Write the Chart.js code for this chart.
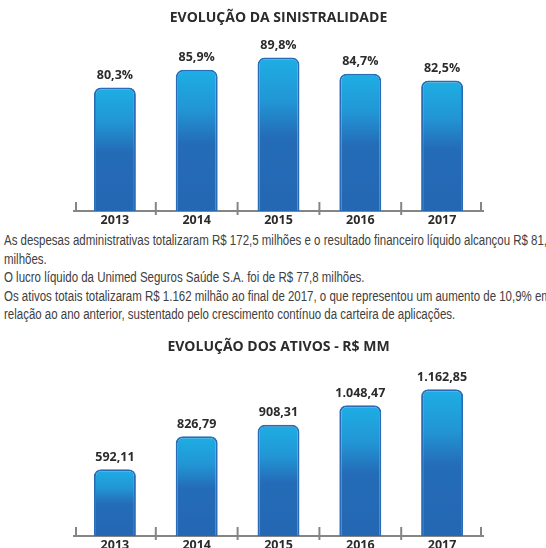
<!DOCTYPE html>
<html lang="pt-BR">
<head>
<meta charset="utf-8">
<title>Evolução da sinistralidade e dos ativos</title>
<script src="https://cdn.jsdelivr.net/npm/chart.js@4/dist/chart.umd.min.js"></script>
<style>
  html, body {
    margin: 0;
    padding: 0;
    background: #ffffff;
    width: 546px;
    height: 548px;
    overflow: hidden;
  }
  .chart-box {
    position: absolute;
    left: 0;
    width: 546px;
    height: 230px;
  }
  #box1 { top: 0; }
  #box2 { top: 325px; }
  .texto-wrap {
    position: absolute;
    left: 4px;
    top: 231px;
    width: 542px;
    height: 95px;
    overflow: hidden;
  }
  /* narrow look of the original typeface: Liberation Sans squeezed like Arial Narrow */
  .texto {
    width: 700px;
    transform: scaleX(0.82);
    transform-origin: 0 0;
    font-family: "Liberation Sans", Arial, sans-serif;
    font-size: 14px;
    line-height: 18.5px;
    color: #404040;
    white-space: nowrap;
  }
</style>
</head>
<body>
<div class="chart-box" id="box1"><canvas id="chartSinistralidade"></canvas></div>

<div class="texto-wrap">
  <div class="texto">
    <div>As despesas administrativas totalizaram R$ 172,5 milhões e o resultado financeiro líquido alcançou R$ 81,8</div>
    <div>milhões.</div>
    <div>O lucro líquido da Unimed Seguros Saúde S.A. foi de R$ 77,8 milhões.</div>
    <div>Os ativos totais totalizaram R$ 1.162 milhão ao final de 2017, o que representou um aumento de 10,9% em</div>
    <div>relação ao ano anterior, sustentado pelo crescimento contínuo da carteira de aplicações.</div>
  </div>
</div>

<div class="chart-box" id="box2"><canvas id="chartAtivos"></canvas></div>

<script>
// data
const years = ["2013", "2014", "2015", "2016", "2017"];
const sinistralidade = [80.3, 85.9, 89.8, 84.7, 82.5];
const ativos = [592.11, 826.79, 908.31, 1048.47, 1162.85];

const FONT = "'Open Sans', 'DejaVu Sans', sans-serif";
const AXIS_GRAY = "#858585";

// pt-BR style numbers: 1.162,85
function formatBR(value, decimals) {
  const parts = value.toFixed(decimals).split(".");
  parts[0] = parts[0].replace(/\B(?=(\d{3})+(?!\d))/g, ".");
  return parts.join(",");
}

// each bar fades from light cyan at its top to the darker blue
function barGradient(context) {
  const chart = context.chart;
  const area = chart.chartArea;
  if (!area || context.raw === undefined) {
    return "#2469b4";
  }
  const top = chart.scales.y.getPixelForValue(context.raw);
  const g = chart.ctx.createLinearGradient(0, top, 0, area.bottom);
  g.addColorStop(0, "#1eaee4");
  g.addColorStop(0.28, "#2296d5");
  g.addColorStop(0.52, "#246cb7");
  g.addColorStop(1, "#2467b3");
  return g;
}

// numbers above the bars
const valueLabels = {
  id: "valueLabels",
  afterDatasetsDraw(chart, args, opts) {
    const ctx = chart.ctx;
    const meta = chart.getDatasetMeta(0);
    const values = chart.data.datasets[0].data;
    ctx.save();
    ctx.font = "bold 12.5px " + FONT;
    ctx.fillStyle = "#2b2b2b";
    ctx.textAlign = "center";
    ctx.textBaseline = "middle";
    meta.data.forEach((bar, i) => {
      ctx.fillText(opts.format(values[i]), bar.x, bar.y - 12);
    });
    ctx.restore();
  },
};

// small tick marks crossing the axis between the years
const axisTicks = {
  id: "axisTicks",
  afterDraw(chart) {
    const ctx = chart.ctx;
    const x = chart.scales.x;
    const y = chart.chartArea.bottom;
    const n = chart.data.labels.length;
    ctx.save();
    ctx.strokeStyle = AXIS_GRAY;
    ctx.lineWidth = 2;
    for (let i = 0; i <= n; i++) {
      let px;
      let below = 4;
      if (i === 0) {
        px = x.left + 2;
        below = 0;
      } else if (i === n) {
        px = x.right - 2;
        below = 0;
      } else {
        px = (x.getPixelForValue(i - 1) + x.getPixelForValue(i)) / 2;
      }
      ctx.beginPath();
      ctx.moveTo(px, y - 9);
      ctx.lineTo(px, y + below);
      ctx.stroke();
    }
    ctx.restore();
  },
};

function makeChart(canvasId, title, values, yMin, yMax, titlePad, format) {
  const ctx = document.getElementById(canvasId).getContext("2d");
  return new Chart(ctx, {
    type: "bar",
    data: {
      labels: years,
      datasets: [
        {
          data: values,
          backgroundColor: barGradient,
          borderColor: "#2a6cb8",
          borderWidth: 2,
          borderRadius: 7,
          borderSkipped: false,
          categoryPercentage: 1,
          barPercentage: 0.513,
        },
      ],
    },
    options: {
      responsive: true,
      maintainAspectRatio: false,
      animation: false,
      layout: {
        padding: { left: 74, right: 63, top: 0, bottom: 0 },
      },
      plugins: {
        legend: { display: false },
        tooltip: { enabled: false },
        title: {
          display: true,
          text: title,
          color: "#2b2b2b",
          font: { family: FONT, size: 14, weight: "bold" },
          padding: titlePad,
        },
        valueLabels: { format: format },
      },
      scales: {
        x: {
          grid: { display: false, drawTicks: false },
          border: { display: true, color: AXIS_GRAY, width: 2 },
          ticks: {
            color: "#2b2b2b",
            padding: 2,
            font: { family: FONT, size: 12.5, weight: "bold" },
          },
        },
        y: {
          display: false,
          min: yMin,
          max: yMax,
        },
      },
    },
    plugins: [valueLabels, axisTicks],
  });
}

makeChart(
  "chartSinistralidade",
  "EVOLUÇÃO DA SINISTRALIDADE",
  sinistralidade,
  41,
  95.4,
  { top: 9.6, bottom: 13.6 },
  (v) => formatBR(v, 1) + "%"
);

makeChart(
  "chartAtivos",
  "EVOLUÇÃO DOS ATIVOS - R$ MM",
  ativos,
  115,
  1332,
  { top: 13.6, bottom: 10.1 },
  (v) => formatBR(v, 2)
);
</script>
</body>
</html>
